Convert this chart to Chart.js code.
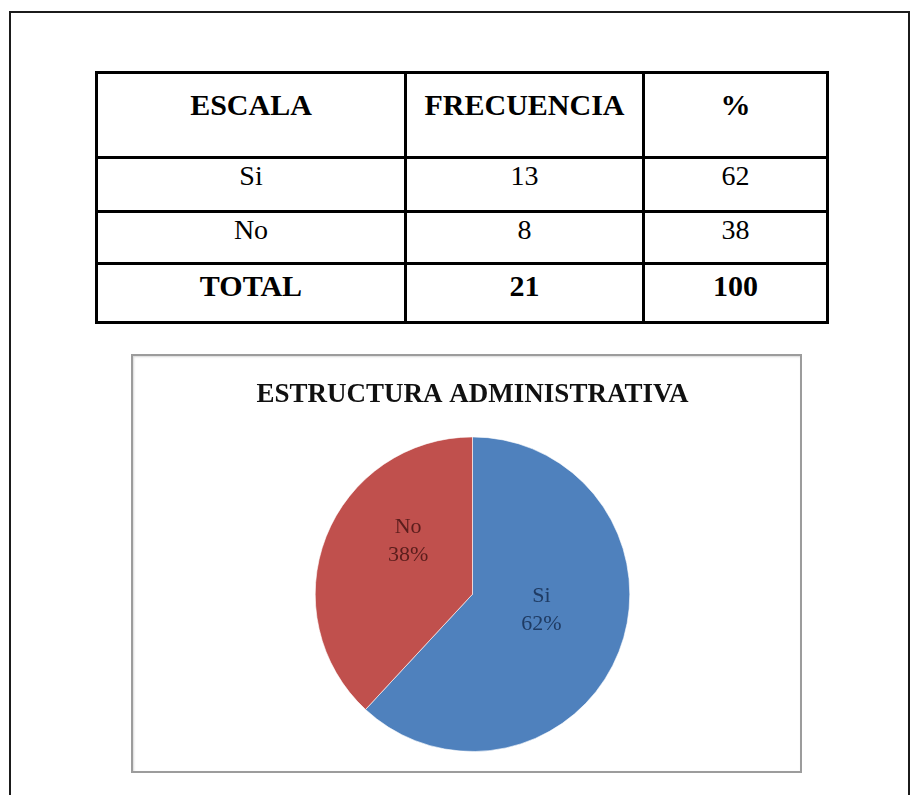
<!DOCTYPE html>
<html>
<head>
<meta charset="utf-8">
<script src="https://cdn.jsdelivr.net/npm/chart.js@4.4.1/dist/chart.umd.min.js"></script>
<style>
  html, body { margin: 0; padding: 0; background: #fff; overflow: hidden; }
  body { width: 912px; height: 795px; position: relative; font-family: "Liberation Serif", "Times New Roman", serif; }
  .frame { position: absolute; left: 9px; top: 11px; width: 901px; height: 900px; border: 2px solid #1b1b1b; box-sizing: border-box; }
  #tabla { position: absolute; left: 95px; top: 71px; width: 731px; border-collapse: collapse; table-layout: fixed; }
  #tabla td { border: 3px solid #000; text-align: center; vertical-align: top; padding: 0; color: #000; line-height: 1.15; }
  #tabla tr.head td { font-weight: bold; font-size: 30px; padding-top: 14px; }
  #tabla tr.row td { font-size: 28px; padding-top: 1px; }
  #tabla tr.total td { font-weight: bold; font-size: 30px; padding-top: 4px; }
  .chart-box { position: absolute; left: 131px; top: 354px; width: 671px; height: 419px; border: 2px solid #9c9c9c; box-sizing: border-box; box-shadow: inset 1px 1px 2px #d8d8d8; }
  .chart-wrap { position: absolute; left: 0; top: 0; width: 679px; height: 415px; }
</style>
</head>
<body>
<div class="frame"></div>

<table id="tabla">
  <colgroup>
    <col style="width:309px">
    <col style="width:238px">
    <col style="width:184px">
  </colgroup>
  <tbody id="tabla-body"></tbody>
</table>

<div class="chart-box">
  <div class="chart-wrap"><canvas id="pie-chart"></canvas></div>
</div>

<script>
//------------------------------------//
//------------- Datos ----------------//
//------------------------------------//

const encabezados = ['ESCALA', 'FRECUENCIA', '%'];
const escalas = ['Si', 'No'];
const frecuencias = [13, 8];
const porcentajes = [62, 38];
const tituloGrafico = 'ESTRUCTURA ADMINISTRATIVA';

const totalFrecuencia = frecuencias.reduce((a, b) => a + b, 0);
const totalPorcentaje = porcentajes.reduce((a, b) => a + b, 0);

//------------------------------------//
//------------- Tabla ----------------//
//------------------------------------//

const tablaBody = document.getElementById('tabla-body');
let filas = `<tr class="head" style="height:85px">${encabezados.map(h => `<td>${h}</td>`).join('')}</tr>`;
const altos = [54, 52];
escalas.forEach((e, i) => {
  filas += `<tr class="row" style="height:${altos[i]}px"><td>${e}</td><td>${frecuencias[i]}</td><td>${porcentajes[i]}</td></tr>`;
});
filas += `<tr class="total" style="height:59px"><td>TOTAL</td><td>${totalFrecuencia}</td><td>${totalPorcentaje}</td></tr>`;
tablaBody.innerHTML = filas;

//------------------------------------//
//------------- Pastel ---------------//
//------------------------------------//

const colores = ['#4f81bd', '#c0504d'];
const coloresTexto = ['#1f3b63', '#5a1d1c'];
// ajuste de la etiqueta: giro (grados) y fraccion del radio
const giroEtiqueta = [-8, 18];
const radioEtiqueta = [0.45, 0.53];

// etiquetas dentro de cada porcion
const etiquetasPlugin = {
  id: 'etiquetas',
  afterDatasetsDraw(chart) {
    const ctx = chart.ctx;
    const meta = chart.getDatasetMeta(0);
    ctx.save();
    ctx.font = '22px "Liberation Serif", serif';
    ctx.textAlign = 'center';
    ctx.textBaseline = 'middle';
    meta.data.forEach((arc, i) => {
      const p = arc.getProps(['x', 'y', 'startAngle', 'endAngle', 'outerRadius'], true);
      const mid = (p.startAngle + p.endAngle) / 2 + giroEtiqueta[i] * Math.PI / 180;
      const r = p.outerRadius * radioEtiqueta[i];
      const cx = p.x + Math.cos(mid) * r;
      const cy = p.y + Math.sin(mid) * r;
      ctx.fillStyle = coloresTexto[i];
      ctx.fillText(escalas[i], cx, cy - 14);
      ctx.fillText(porcentajes[i] + '%', cx, cy + 14);
    });
    ctx.restore();
  }
};

const pieCanvas = document.getElementById('pie-chart');

let pieData = {
  labels: escalas,
  datasets: [{
    data: frecuencias,
    backgroundColor: colores,
    borderColor: 'rgba(255,255,255,0.6)',
    borderWidth: 1
  }]
};

let pieOptions = {
  responsive: true,
  maintainAspectRatio: false,
  animation: false,
  layout: {
    padding: { left: 0, right: 0, top: 0, bottom: 19 }
  },
  plugins: {
    legend: { display: false },
    tooltip: { enabled: false },
    title: {
      display: true,
      text: tituloGrafico,
      color: '#111',
      font: { family: '"Liberation Serif", serif', size: 27, weight: 'bold', lineHeight: 1.2 },
      padding: { top: 23, bottom: 25 }
    }
  }
};

let pieChart = new Chart(pieCanvas, {
  type: 'pie',
  data: pieData,
  options: pieOptions,
  plugins: [etiquetasPlugin]
});
</script>
</body>
</html>
